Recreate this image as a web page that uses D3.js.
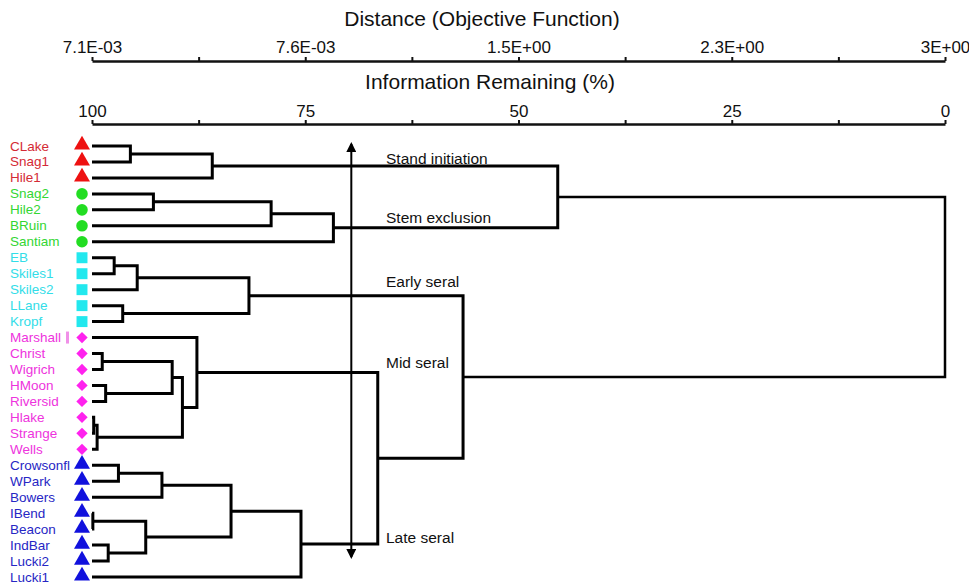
<!DOCTYPE html>
<html>
<head>
<meta charset="utf-8">
<script src="https://cdn.jsdelivr.net/npm/d3@7"></script>
<style>
  body { margin: 0; background: #fff; }
  svg { display: block; font-family: "Liberation Sans", Arial, Helvetica, sans-serif; }
  .axis path, .axis line { stroke: #111; }
  .axis text { fill: #111; }
</style>
</head>
<body>
<div class="chart"></div>
<script>
// leaves, top to bottom
var leafNames = ["CLake", "Snag1", "Hile1", "Snag2", "Hile2", "BRuin", "Santiam",
  "EB", "Skiles1", "Skiles2", "LLane", "Kropf",
  "Marshall", "Christ", "Wigrich", "HMoon", "Riversid", "Hlake", "Strange", "Wells",
  "Crowson", "WPark", "Bowers", "IBend", "Beacon", "IndBar", "Lucki2", "Lucki1"];
var leafGroup = ["red", "red", "red", "green", "green", "green", "green",
  "cyan", "cyan", "cyan", "cyan", "cyan",
  "magenta", "magenta", "magenta", "magenta", "magenta", "magenta", "magenta", "magenta",
  "blue", "blue", "blue", "blue", "blue", "blue", "blue", "blue"];

// merges: [id, left, right, information remaining %]
var merges = [
  ["m1", "CLake", "Snag1", 95.5],
  ["m2", "m1", "Hile1", 85.9],
  ["m3", "Snag2", "Hile2", 92.8],
  ["m4", "m3", "BRuin", 79.0],
  ["m5", "m4", "Santiam", 71.7],
  ["m6", "EB", "Skiles1", 97.4],
  ["m7", "m6", "Skiles2", 94.7],
  ["m8", "LLane", "Kropf", 96.4],
  ["m9", "m7", "m8", 81.6],
  ["m10", "Christ", "Wigrich", 98.8],
  ["m11", "HMoon", "Riversid", 98.4],
  ["m12", "m10", "m11", 90.6],
  ["m13", "Hlake", "Strange", 99.8],
  ["m14", "m13", "Wells", 99.4],
  ["m15", "m12", "m14", 89.4],
  ["m16", "Marshall", "m15", 87.7],
  ["m17", "Crowson", "WPark", 96.9],
  ["m18", "m17", "Bowers", 91.8],
  ["m19", "IBend", "Beacon", 99.9],
  ["m20", "IndBar", "Lucki2", 98.1],
  ["m21", "m19", "m20", 93.7],
  ["m22", "m18", "m21", 83.7],
  ["m23", "m22", "Lucki1", 75.5],
  ["m24", "m16", "m23", 66.5],
  ["m25", "m9", "m24", 56.5],
  ["m26", "m2", "m5", 45.4],
  ["m27", "m26", "m25", 0.0]
];

var infoTicks = [100, 87.5, 75, 62.5, 50, 37.5, 25, 12.5, 0];
var infoLabels = ["100", "", "75", "", "50", "", "25", "", "0"];
var distLabels = ["7.1E-03", "", "7.6E-03", "", "1.5E+00", "", "2.3E+00", "", "3E+00"];

var stageNames = ["Stand initiation", "Stem exclusion", "Early seral", "Mid seral", "Late seral"];
var stageNodes = ["m2", "m5", "m9", "m16", "m23"];
var arrowInfo = 69.6;

var colors = {
  red: { mark: "#ee1111", text: "#d42a35" },
  green: { mark: "#22dd22", text: "#33d633" },
  cyan: { mark: "#22e8ee", text: "#33dde8" },
  magenta: { mark: "#ff22ee", text: "#ee33dd" },
  blue: { mark: "#1111dd", text: "#2626c4" }
};

var svgWidth = 969;
var svgHeight = 583;

var svg = d3.select(".chart").append("svg")
  .attr("width", svgWidth)
  .attr("height", svgHeight);

var x = d3.scaleLinear().domain([100, 0]).range([92, 945]);
var y = d3.scalePoint().domain(leafNames).range([146, 577]);

// arrow marker
var defs = svg.append("defs");
defs.append("marker")
  .attr("id", "arrow")
  .attr("viewBox", "0 0 10 10")
  .attr("refX", 8).attr("refY", 5)
  .attr("markerWidth", 12).attr("markerHeight", 10)
  .attr("markerUnits", "userSpaceOnUse")
  .attr("orient", "auto-start-reverse")
  .append("path").attr("d", "M0,0L10,5L0,10Z").attr("fill", "#000");

// axes
function drawAxis(yPos, labels, padding) {
  var axis = d3.axisTop(x)
    .tickValues(infoTicks)
    .tickFormat(function(d, i) { return labels[i]; })
    .tickSize(4)
    .tickSizeOuter(0)
    .tickPadding(padding);
  var g = svg.append("g")
    .attr("class", "axis")
    .attr("transform", "translate(0," + yPos + ")")
    .call(axis);
  g.select(".domain").attr("stroke-width", 2.5);
  g.selectAll(".tick line").attr("stroke-width", 2);
  g.selectAll(".tick text").attr("font-size", 17).attr("font-family", "Liberation Sans, Arial, sans-serif");
  return g;
}
drawAxis(61, distLabels, 4);
drawAxis(124, infoLabels, 3);

svg.append("text")
  .attr("x", 482).attr("y", 26)
  .attr("text-anchor", "middle")
  .attr("font-size", 21)
  .attr("fill", "#111")
  .text("Distance (Objective Function)");

svg.append("text")
  .attr("x", 490).attr("y", 89)
  .attr("text-anchor", "middle")
  .attr("font-size", 21)
  .attr("fill", "#111")
  .text("Information Remaining (%)");

// node positions
var nodes = {};
leafNames.forEach(function(name) {
  nodes[name] = { x: x(100), y: y(name) };
});
merges.forEach(function(m) {
  var a = nodes[m[1]], b = nodes[m[2]];
  nodes[m[0]] = { x: x(m[3]), y: (a.y + b.y) / 2, a: a, b: b };
});

// dendrogram
var links = svg.append("g")
  .attr("fill", "none")
  .attr("stroke", "#000")
  .attr("stroke-linejoin", "miter");

links.selectAll("path")
  .data(merges)
  .enter()
  .append("path")
  .attr("stroke-width", function(m) { return m[0] === "m27" ? 2.5 : 3; })
  .attr("d", function(m) {
    var n = nodes[m[0]];
    return "M" + n.a.x + "," + n.a.y + "H" + n.x + "V" + n.b.y + "H" + n.b.x;
  });

// vertical double arrow
svg.append("line")
  .attr("x1", x(arrowInfo)).attr("x2", x(arrowInfo))
  .attr("y1", 144).attr("y2", 557)
  .attr("stroke", "#000")
  .attr("stroke-width", 2)
  .attr("marker-start", "url(#arrow)")
  .attr("marker-end", "url(#arrow)");

// stage labels
var stageDy = [-2, -5, -9, -4, -1];
svg.selectAll(".stage")
  .data(stageNames)
  .enter()
  .append("text")
  .attr("class", "stage")
  .attr("x", 386)
  .attr("y", function(d, i) { return nodes[stageNodes[i]].y + stageDy[i]; })
  .attr("font-size", 15.5)
  .attr("fill", "#111")
  .text(function(d) { return d; });

// leaf labels and symbols
svg.selectAll(".leaf")
  .data(leafNames)
  .enter()
  .append("text")
  .attr("class", "leaf")
  .attr("x", 10)
  .attr("y", function(d) { return y(d) + 4.5; })
  .attr("font-size", 13.5)
  .attr("fill", function(d, i) { return colors[leafGroup[i]].text; })
  .text(function(d) { return d === "Crowson" ? "Crowson\ufb02" : d; });

// stray bar after Marshall, as printed
svg.append("rect")
  .attr("x", 66).attr("y", y("Marshall") - 6)
  .attr("width", 3).attr("height", 12)
  .attr("fill", "#f090e8");

var symbolType = {
  red: d3.symbolTriangle,
  green: d3.symbolCircle,
  cyan: d3.symbolSquare,
  magenta: d3.symbolSquare,
  blue: d3.symbolTriangle
};
var symbolSize = { red: 110, green: 105, cyan: 120, magenta: 64, blue: 110 };

svg.selectAll(".mark")
  .data(leafNames)
  .enter()
  .append("path")
  .attr("class", "mark")
  .attr("transform", function(d, i) {
    var g = leafGroup[i];
    var dy = symbolType[g] === d3.symbolTriangle ? -1 : 0;
    var rot = g === "magenta" ? " rotate(45)" : "";
    return "translate(82," + (y(d) + dy) + ")" + rot;
  })
  .attr("d", function(d, i) {
    var g = leafGroup[i];
    return d3.symbol().type(symbolType[g]).size(symbolSize[g])();
  })
  .attr("fill", function(d, i) { return colors[leafGroup[i]].mark; });
</script>
</body>
</html>
